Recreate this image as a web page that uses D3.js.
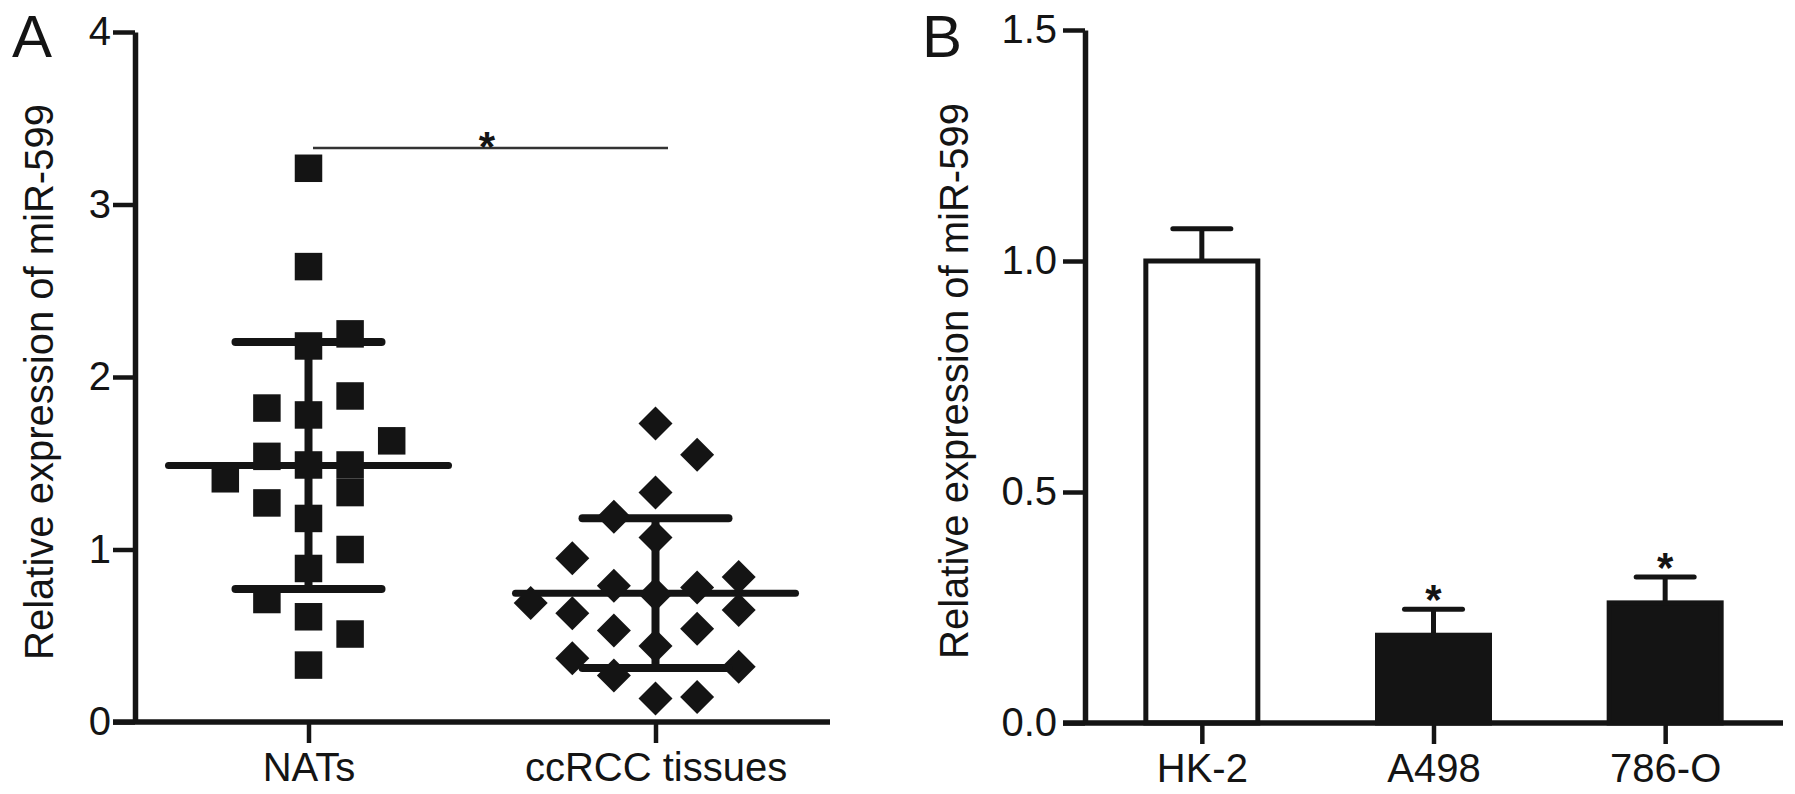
<!DOCTYPE html>
<html>
<head>
<meta charset="utf-8">
<script src="https://cdn.jsdelivr.net/npm/d3@7"></script>
<style>
  html, body { margin: 0; padding: 0; background: #fff; }
  svg text { font-family: "Liberation Sans", Arial, sans-serif; fill: #141414; }
</style>
</head>
<body>
<svg id="fig" width="1795" height="794"></svg>
<script>
// panel A: scatter dot plot
const groups = ["NATs", "ccRCC tissues"];
const natsValues = [3.21, 2.64, 2.25, 2.18, 1.89, 1.82, 1.78, 1.63, 1.54, 1.49, 1.49, 1.41, 1.33, 1.27, 1.18, 1.00, 0.89, 0.71, 0.61, 0.51, 0.33];
// column each point sits in (Prism jitter), -2..2
const natsCols   = [0, 0, 1, 0, 1, -1, 0, 2, -1, 0, 1, -2, 1, -1, 0, 1, 0, -1, 0, 1, 0];
const ccrccValues = [1.73, 1.55, 1.33, 1.19, 1.07, 0.95, 0.84, 0.79, 0.78, 0.74, 0.69, 0.65, 0.63, 0.54, 0.53, 0.44, 0.37, 0.32, 0.27, 0.145, 0.136];
const ccrccCols   = [0, 1, 0, -1, 0, -2, 2, -1, 1, 0, -3, 2, -2, 1, -1, 0, -2, 2, -1, 1, 0];
const groupMeans = [1.487, 0.747];
const groupSDs = [0.716, 0.434];

// panel B: bar chart
const cellLines = ["HK-2", "A498", "786-O"];
const cellMeans = [1.0, 0.19, 0.26];
const cellErrs = [0.07, 0.056, 0.056];
const cellStars = [false, true, true];

const ink = "#141414";
const svg = d3.select("#fig");

// ---------- panel A ----------
const yA = d3.scaleLinear().domain([0, 4]).range([722, 32]);
const xA = d3.scalePoint().domain(groups).range([135, 829]).padding(0.5);
const slot = d3.scaleLinear().domain([-1, 1]).range([-41.6, 41.6]);

const gA = svg.append("g");

// points
const natsPts = natsValues.map((v, i) => ({v: v, c: natsCols[i]}));
const ccPts = ccrccValues.map((v, i) => ({v: v, c: ccrccCols[i]}));
const sq = 27.5;
gA.append("g").selectAll("rect").data(natsPts).enter()
  .append("rect")
  .attr("x", d => xA("NATs") + slot(d.c) - sq / 2)
  .attr("y", d => yA(d.v) - sq / 2)
  .attr("width", sq).attr("height", sq)
  .style("fill", ink);
const dm = 17;
gA.append("g").selectAll("path").data(ccPts).enter()
  .append("path")
  .attr("transform", d => "translate(" + (xA("ccRCC tissues") + slot(d.c)) + "," + yA(d.v) + ")")
  .attr("d", "M0,-" + dm + "L" + dm + ",0L0," + dm + "L-" + dm + ",0Z")
  .style("fill", ink);

// mean and SD lines
groups.forEach((g, i) => {
  const cx = xA(g);
  const m = groupMeans[i], s = groupSDs[i];
  gA.append("line")
    .attr("x1", cx).attr("x2", cx)
    .attr("y1", yA(m + s)).attr("y2", yA(m - s))
    .style("stroke", ink).style("stroke-width", 8);
  [m + s, m - s].forEach(v => {
    gA.append("line")
      .attr("x1", cx - 73).attr("x2", cx + 73)
      .attr("y1", yA(v)).attr("y2", yA(v))
      .style("stroke", ink).style("stroke-width", 8).style("stroke-linecap", "round");
  });
  gA.append("line")
    .attr("x1", cx - 140).attr("x2", cx + 140)
    .attr("y1", yA(m)).attr("y2", yA(m))
    .style("stroke", ink).style("stroke-width", 7).style("stroke-linecap", "round");
});

// axes
gA.append("g").attr("transform", "translate(135,0)")
  .call(d3.axisLeft(yA).tickValues([0, 1, 2, 3, 4]).tickFormat(d3.format("d")).tickSize(22).tickSizeOuter(0).tickPadding(2));
const axAx = gA.append("g").attr("transform", "translate(0,722)")
  .call(d3.axisBottom(xA).tickSize(21).tickSizeOuter(0).tickPadding(10));
axAx.select(".domain").remove();
gA.append("line").attr("x1", 113).attr("x2", 830).attr("y1", 722).attr("y2", 722)
  .style("stroke", ink).style("stroke-width", 5.5);

// significance bracket
gA.append("line").attr("x1", 313).attr("x2", 668).attr("y1", 148).attr("y2", 148)
  .style("stroke", "#333").style("stroke-width", 2.5);
gA.append("text").attr("x", 487).attr("y", 161).attr("text-anchor", "middle")
  .style("font-size", "42px").style("font-weight", "bold").text("*");

gA.append("text")
  .attr("transform", "translate(53,382) rotate(-90)")
  .attr("text-anchor", "middle").style("font-size", "40px")
  .text("Relative expression of miR-599");
gA.append("text").attr("x", 12).attr("y", 57).style("font-size", "60px").text("A");

// ---------- panel B ----------
const yB = d3.scaleLinear().domain([0, 1.5]).range([723, 30]);
const xB = d3.scalePoint().domain(cellLines).range([1086, 1781]).padding(0.5);
const barW = 112;
const gB = svg.append("g");

const bars = cellLines.map((c, i) => ({c: c, v: cellMeans[i], e: cellErrs[i], s: cellStars[i], i: i}));

// error bars (drawn behind bars)
gB.append("g").selectAll("line").data(bars).enter()
  .append("line")
  .attr("x1", d => xB(d.c)).attr("x2", d => xB(d.c))
  .attr("y1", d => yB(d.v)).attr("y2", d => yB(d.v + d.e))
  .style("stroke", ink).style("stroke-width", 5);
gB.append("g").selectAll("line").data(bars).enter()
  .append("line")
  .attr("x1", d => xB(d.c) - 29).attr("x2", d => xB(d.c) + 29)
  .attr("y1", d => yB(d.v + d.e)).attr("y2", d => yB(d.v + d.e))
  .style("stroke", ink).style("stroke-width", 5).style("stroke-linecap", "round");

gB.append("g").selectAll("rect").data(bars).enter()
  .append("rect")
  .attr("x", d => xB(d.c) - barW / 2)
  .attr("y", d => yB(d.v))
  .attr("width", barW)
  .attr("height", d => yB(0) - yB(d.v))
  .style("fill", d => d.i === 0 ? "#fff" : ink)
  .style("stroke", ink).style("stroke-width", 5);

gB.append("g").selectAll("text").data(bars.filter(d => d.s)).enter()
  .append("text")
  .attr("x", d => xB(d.c)).attr("y", d => yB(d.v + d.e) + 5)
  .attr("text-anchor", "middle").style("font-size", "42px").style("font-weight", "bold").text("*");

gB.append("g").attr("transform", "translate(1085,0)")
  .call(d3.axisLeft(yB).tickValues([0, 0.5, 1, 1.5]).tickFormat(d3.format(".1f")).tickSize(22).tickSizeOuter(0).tickPadding(6));
const axBx = gB.append("g").attr("transform", "translate(0,723)")
  .call(d3.axisBottom(xB).tickSize(21).tickSizeOuter(0).tickPadding(10));
axBx.select(".domain").remove();
gB.append("line").attr("x1", 1063).attr("x2", 1783).attr("y1", 723).attr("y2", 723)
  .style("stroke", ink).style("stroke-width", 5.5);

gB.append("text")
  .attr("transform", "translate(968,381) rotate(-90)")
  .attr("text-anchor", "middle").style("font-size", "40px")
  .text("Relative expression of miR-599");
gB.append("text").attr("x", 922).attr("y", 57).style("font-size", "60px").text("B");

// shared axis styling
svg.selectAll(".domain").style("stroke", ink).style("stroke-width", 5.5);
svg.selectAll(".tick line").style("stroke", ink).style("stroke-width", 4.5);
svg.selectAll(".tick text").style("font-size", "40px").style("fill", ink)
  .style("font-family", "'Liberation Sans', Arial, sans-serif");
</script>
</body>
</html>
